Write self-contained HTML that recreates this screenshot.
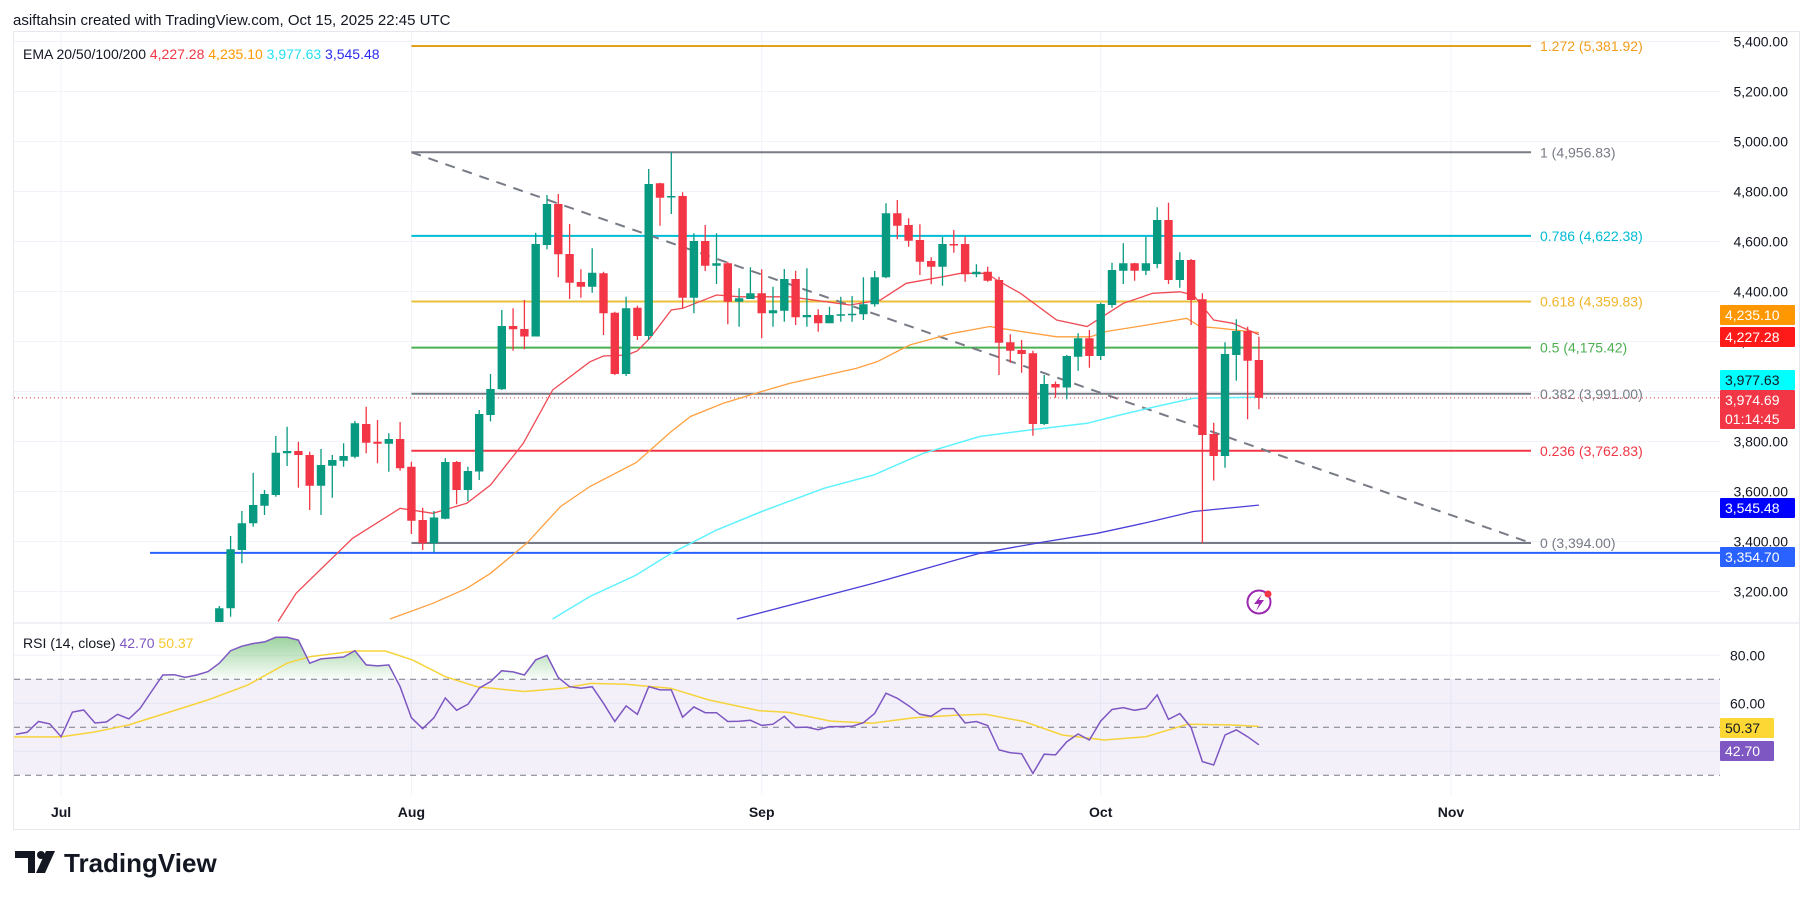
<!DOCTYPE html>
<html><head><meta charset="utf-8">
<style>
html,body{margin:0;padding:0;background:#fff;}
body{width:1814px;height:900px;overflow:hidden;font-family:"Liberation Sans",sans-serif;}
svg text{font-family:"Liberation Sans",sans-serif;}
</style></head>
<body>
<svg id="chart" width="1814" height="900" viewBox="0 0 1814 900" xmlns="http://www.w3.org/2000/svg">
<defs>
<clipPath id="pclip"><rect x="14" y="32" width="1706" height="590"/></clipPath>
<clipPath id="rclip"><rect x="14" y="624" width="1706" height="170"/></clipPath>
<linearGradient id="ob" x1="0" y1="0" x2="0" y2="1"><stop offset="0" stop-color="#4caf50" stop-opacity="0.55"/><stop offset="1" stop-color="#4caf50" stop-opacity="0.03"/></linearGradient>
</defs>
<text x="13" y="25" font-size="15" fill="#131722">asiftahsin created with TradingView.com, Oct 15, 2025 22:45 UTC</text>
<rect x="13.5" y="31.5" width="1786" height="798" fill="none" stroke="#e6e8ee"/>
<g id="grid"></g>
<rect x="14" y="679" width="1706" height="96" fill="#7e57c2" fill-opacity="0.09"/>
<g id="fib"></g>
<g id="ema" clip-path="url(#pclip)"></g>
<g id="candles" clip-path="url(#pclip)"></g>
<g id="rsi" clip-path="url(#rclip)"></g>
<line x1="13" y1="623" x2="1800" y2="623" stroke="#e0e3eb"/>
<g id="axis"></g>
<g id="boxes"></g>
<text x="23" y="59" font-size="14"><tspan fill="#131722">EMA 20/50/100/200 </tspan><tspan fill="#f23645">4,227.28 </tspan><tspan fill="#ff9800">4,235.10 </tspan><tspan fill="#26e0f0">3,977.63 </tspan><tspan fill="#2a2af0">3,545.48</tspan></text>
<text x="23" y="648" font-size="14"><tspan fill="#131722">RSI (14, close) </tspan><tspan fill="#7e57c2">42.70 </tspan><tspan fill="#f5c82a">50.37</tspan></text>
<g>
<circle cx="1259" cy="602" r="11.5" fill="none" stroke="#9c27b0" stroke-width="2"/>
<path d="M1262 594 L1254 604 L1259 604 L1256 611 L1264 600 L1259 600 Z" fill="#9c27b0"/>
<circle cx="1268" cy="594" r="3.5" fill="#f23645"/>
</g>
<g>
<path d="M15 851 H35 V873 H28 V858 H15 Z" fill="#131722"/>
<circle cx="41" cy="855" r="4" fill="#131722"/>
<path d="M46 851 H55 L45 873 H36 Z" fill="#131722"/>
<text x="64" y="872" font-size="26" font-weight="bold" fill="#131722">TradingView</text>
</g>
</svg>
<script>
const NS='http://www.w3.org/2000/svg';
const dayStart=14;
const opens=[3060,3133,3366,3473,3543,3586,3753,3762,3746,3623,3703,3723,3739,3870,3799,3791,3810,3699,3486,3393,3491,3718,3606,3680,3906,4009,4262,4250,4220,4586,4750,4550,4438,4419,4473,4315,4070,4335,4222,4833,4777,4782,4375,4602,4503,4513,4359,4370,4393,4313,4323,4450,4297,4306,4273,4303,4306,4309,4349,4457,4713,4666,4606,4522,4499,4590,4590,4469,4479,4446,4197,4166,4153,3870,4030,4016,4139,4213,4142,4346,4483,4513,4483,4510,4686,4446,4526,4369,3830,3742,4146,4242,4126];
const closes=[3133,3369,3473,3546,3590,3755,3762,3746,3623,3706,3726,3742,3873,3795,3791,3810,3693,3483,3393,3496,3718,3606,3682,3910,4010,4262,4249,4220,4590,4750,4549,4435,4419,4475,4313,4070,4333,4222,4830,4775,4782,4375,4602,4503,4513,4359,4373,4393,4313,4325,4450,4297,4306,4273,4306,4309,4311,4349,4457,4713,4663,4603,4519,4499,4590,4585,4469,4479,4443,4195,4163,4150,3870,4030,4016,4142,4213,4142,4350,4486,4513,4483,4513,4686,4446,4526,4366,3826,3742,4150,4242,4123,3974.69];
const highs=[3142,3422,3522,3675,3606,3822,3859,3799,3759,3770,3746,3793,3882,3939,3886,3833,3878,3719,3535,3522,3733,3722,3699,3926,4070,4326,4333,4366,4635,4786,4790,4670,4489,4573,4479,4319,4379,4343,4890,4835,4957,4797,4633,4666,4633,4519,4413,4497,4489,4419,4490,4483,4493,4329,4339,4379,4382,4457,4482,4753,4766,4693,4669,4537,4619,4646,4619,4509,4499,4459,4229,4206,4163,4066,4040,4146,4233,4246,4355,4515,4593,4515,4619,4737,4755,4557,4530,4393,3875,4197,4289,4259,4219];
const lows=[3050,3099,3313,3459,3506,3579,3702,3615,3526,3506,3575,3699,3733,3753,3713,3679,3683,3430,3366,3357,3489,3549,3562,3646,3880,4006,4163,4169,4220,4569,4457,4370,4375,4395,4226,4066,4062,4206,4206,4663,4710,4333,4313,4482,4430,4269,4259,4370,4213,4259,4279,4266,4259,4239,4273,4279,4279,4286,4339,4453,4609,4579,4466,4429,4423,4555,4439,4457,4439,4066,4115,4075,3823,3866,3975,3969,4083,4095,4126,4335,4430,4443,4466,4493,4430,4415,4266,3394,3644,3695,4043,3889,3929];
const ema20Days=[19.2,20.8,25.8,30,32.9,35.9,38,40.9,43.5,46.8,48,50.1,51,52.1,54,55,58,60.1,64.5,69.8,72.5,74.8,78,79.6,81.9,82.8,84.9,88.1,90.8,94,96.6,99,100.2,102,103.7,106];
const ema20Vals=[3080,3193,3413,3533,3513,3553,3626,3793,4006,4119,4142,4146,4163,4213,4326,4333,4386,4379,4379,4346,4366,4433,4459,4473,4473,4446,4393,4286,4260,4353,4393,4399,4386,4286,4273,4227.28];
const ema50Days=[29.1,32.9,35.9,38,41.2,44.2,46.8,50.9,54,55.7,58.6,62,64.5,70.4,72.2,75.1,78.9,82.2,83.1,88.1,91.1,92.5,96.1,99.6,100.8,102.6,106];
const ema50Vals=[3090,3153,3213,3273,3393,3540,3620,3716,3840,3900,3953,4000,4033,4093,4119,4186,4233,4260,4253,4219,4219,4240,4266,4293,4260,4253,4235.10];
const ema100Days=[43.5,46.8,50.9,54,58,62,67.5,71.9,76.3,81.3,85.7,90.8,93.7,96.9,100.2,106];
const ema100Vals=[3090,3180,3266,3353,3446,3520,3613,3666,3753,3820,3846,3873,3906,3940,3973,3977.63];
const ema200Days=[59.8,71.9,81.3,87.2,91.7,96.1,100.2,106];
const ema200Vals=[3090,3233,3353,3400,3433,3476,3520,3545.48];
const rsiStartDay=-4;
const rsiVals=[47.1,47.9,52.4,51.4,46.1,56.3,57.2,51.8,52.2,55.4,53.5,57.9,64.9,71.8,71.9,70.8,71.8,73.2,76.7,81.9,83.8,84.9,85.6,87.5,87.5,86.3,76.7,78.5,78.9,79.3,81.9,76.0,75.6,76.0,66.9,54.0,49.4,54.0,62.2,57.1,59.6,66.3,69.0,73.6,73.1,71.8,78.1,80.0,70.7,66.9,66.3,66.9,60.0,52.4,58.9,55.4,66.9,65.6,65.6,54.2,58.5,56.1,56.1,52.4,52.5,52.9,50.8,51.3,54.6,49.9,50.1,49.0,50.3,50.3,50.4,51.9,55.8,64.2,62.1,59.0,55.4,54.6,57.8,57.8,51.8,52.4,50.7,40.6,39.4,39.0,30.8,38.8,38.5,44.0,47.2,44.7,52.6,57.4,58.2,57.1,57.9,63.5,53.3,55.7,49.9,35.7,34.3,46.8,48.9,46.1,42.7];
const rsiMaDays=[-4.3,0,2.8,6,9.5,13,16.5,20,22,26,28.7,31.1,34,36.8,41,44.4,46.9,50,53.9,57.3,61.8,64.4,68.1,71.8,75.5,79.3,81.8,85.2,88.6,92.3,96,99.7,103.4,106];
const rsiMaVals=[46,46,47.9,51,56.2,61.4,67.6,76.7,79.4,81.8,81.8,78.1,71.1,66.9,64.9,66.3,68.3,67.9,66.3,61.4,56.9,56.2,52.6,51.7,54.0,55.1,55.4,52.4,46.8,44.7,46.1,51.3,51.0,50.37];
const fibLevels=[1.272,1,0.786,0.618,0.5,0.382,0.236,0];
const fibPrices=[5381.92,4956.83,4622.38,4359.83,4175.42,3991.00,3762.83,3394.00];
const fibColors=['#e0a21b','#787b86','#00bcd4','#e8c23a','#4caf50','#787b86','#f23645','#787b86'];
const fibTextColors=['#f29d1f','#787b86','#00bcd4','#f0b429','#4caf50','#787b86','#f23645','#787b86'];
const priceTicks=[5400,5200,5000,4800,4600,4400,4200,4000,3800,3600,3400,3200];
const rsiTicks=[80,60,40];
const monthLabels=['Jul','Aug','Sep','Oct','Nov'];
const monthDays=[0,31,62,92,123];

const X=d=>61.1+d*11.3;
const Y=p=>41.5+(5400-p)/4;
const RY=v=>727.3-(v-50)*2.4;
function mk(tag,attrs,parent){const e=document.createElementNS(NS,tag);for(const k in attrs)e.setAttribute(k,attrs[k]);parent.appendChild(e);return e;}
const fmt=v=>v.toLocaleString('en-US',{minimumFractionDigits:2,maximumFractionDigits:2});

const grid=document.getElementById('grid');
priceTicks.forEach(p=>{const l=mk('line',{x1:14,x2:1720,y1:Y(p),y2:Y(p),stroke:'#f0f3fa'},grid);

});
rsiTicks.forEach(v=>{const l=mk('line',{x1:14,x2:1720,y1:RY(v),y2:RY(v),stroke:'#f0f3fa'},grid);

});
monthDays.forEach(d=>{const l=mk('line',{x1:X(d),x2:X(d),y1:32,y2:795,stroke:'#f0f3fa'},grid);

});

const fib=document.getElementById('fib');
const fx1=X(31), fx2=1531;
fibPrices.forEach((p,i)=>{
  const l=mk('line',{x1:fx1,x2:fx2,y1:Y(p),y2:Y(p),stroke:fibColors[i],'stroke-width':2},fib);
  
  
  const t=mk('text',{x:1540,y:Y(p)+5,'font-size':14,fill:fibTextColors[i]},fib);
  t.textContent=fibLevels[i]+' ('+fmt(p)+')';
  
  
});
const tl=mk('line',{x1:fx1,y1:Y(fibPrices[1]),x2:fx2,y2:Y(fibPrices[7]),stroke:'#787b86','stroke-width':2,'stroke-dasharray':'10 8'},fib);


const hl=mk('line',{x1:150,x2:1720,y1:Y(3354.70),y2:Y(3354.70),stroke:'#2962ff','stroke-width':2},fib);


const pl=mk('line',{x1:14,x2:1720,y1:Y(3974.69),y2:Y(3974.69),stroke:'#f23645','stroke-width':1,'stroke-dasharray':'1 3'},fib);



const ema=document.getElementById('ema');
[[ema200Days,ema200Vals,'#4a3fd8',1.3,'ema-200-line'],[ema100Days,ema100Vals,'#5ef2ff',1.5,'ema-100-line'],[ema50Days,ema50Vals,'#ffa040',1.3,'ema-50-line'],[ema20Days,ema20Vals,'#f04a55',1.3,'ema-20-line']].forEach(s=>{
  const pts=s[0].map((d,i)=>X(d).toFixed(1)+','+Y(s[1][i]).toFixed(1)).join(' ');
  const e=mk('polyline',{points:pts,fill:'none',stroke:s[2],'stroke-width':s[3]},ema);
  
  
});

const cg=document.getElementById('candles');
opens.forEach((o,i)=>{
  const c=closes[i],x=X(dayStart+i),up=c>=o,col=up?'#089981':'#f23645';
  const g=mk('g',{},cg);
  
  
  mk('line',{x1:x,x2:x,y1:Y(highs[i]),y2:Y(lows[i]),stroke:col,'stroke-width':1.3},g);
  const t=Y(Math.max(o,c)),b=Y(Math.min(o,c));
  mk('rect',{x:x-4.2,y:t,width:8.4,height:Math.max(1.5,b-t),fill:col},g);
});

const rg=document.getElementById('rsi');
const rpts=rsiVals.map((v,i)=>[X(rsiStartDay+i),RY(v)]);
// overbought fill
let fillPath='';
for(let i=0;i<rpts.length-1;i++){
  const a=rpts[i],b=rpts[i+1],y70=RY(70);
  if(a[1]<y70||b[1]<y70){
    let ax=a[0],ay=a[1],bx=b[0],by=b[1];
    if(ay>y70){ax=ax+(bx-ax)*(ay-y70)/(ay-by);ay=y70;}
    if(by>y70){bx=ax+(bx-ax)*(y70-ay)/(by-ay);by=y70;}
    fillPath+=`M${ax},${y70} L${ax},${ay} L${bx},${by} L${bx},${y70} Z `;
  }
}
const fp=mk('path',{d:fillPath,fill:'url(#ob)'},rg);


[70,50,30].forEach(v=>{const l=mk('line',{x1:14,x2:1720,y1:RY(v),y2:RY(v),stroke:'#787b86','stroke-dasharray':'6 5'},rg);

});
const ma=mk('polyline',{points:rsiMaDays.map((d,i)=>X(d).toFixed(1)+','+RY(rsiMaVals[i]).toFixed(1)).join(' '),fill:'none',stroke:'#f7d33a','stroke-width':1.5},rg);


const rl=mk('polyline',{points:rpts.map(p=>p[0].toFixed(1)+','+p[1].toFixed(1)).join(' '),fill:'none',stroke:'#7e57c2','stroke-width':1.5},rg);



const ax=document.getElementById('axis');
priceTicks.forEach(p=>{const t=mk('text',{x:1788,y:Y(p)+5,'font-size':14,fill:'#131722','text-anchor':'end'},ax);t.textContent=fmt(p);

});
rsiTicks.forEach(v=>{const t=mk('text',{x:1730,y:RY(v)+5,'font-size':14,fill:'#131722'},ax);t.textContent=fmt(v);

});
monthLabels.forEach((m,i)=>{const t=mk('text',{x:X(monthDays[i]),y:817,'font-size':14,'font-weight':'bold',fill:'#131722','text-anchor':'middle'},ax);t.textContent=m;

});

const bx=document.getElementById('boxes');
const boxes=[['4,235.10',305,'#ff9800','#fff'],['4,227.28',327,'#ff1a1a','#fff'],['3,977.63',370,'#00ffff','#131722'],['3,545.48',498,'#0000ff','#fff'],['3,354.70',547,'#2962ff','#fff'],['50.37',718,'#fdd835','#131722'],['42.70',741,'#7e57c2','#fff']];
boxes.forEach(b=>{
  const w=b[0].length>5?75:54;
  const g=mk('g',{},bx);
  
  
  mk('rect',{x:1720,y:b[1],width:w,height:20,fill:b[2],rx:1},g);
  const t=mk('text',{x:1725,y:b[1]+15,'font-size':14,fill:b[3]},g);t.textContent=b[0];
});
const lg=mk('g',{},bx);


mk('rect',{x:1720,y:390,width:75,height:39,fill:'#f23645',rx:1},lg);
const t1=mk('text',{x:1725,y:405,'font-size':14,fill:'#fff'},lg);t1.textContent='3,974.69';
const t2=mk('text',{x:1725,y:424,'font-size':14,fill:'#fff'},lg);t2.textContent='01:14:45';
</script>
</body></html>
